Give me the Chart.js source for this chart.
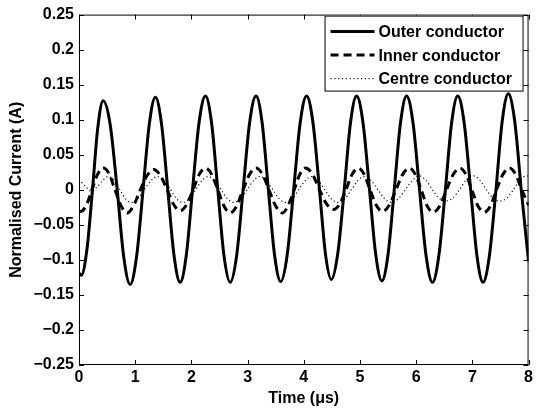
<!DOCTYPE html>
<html>
<head>
<meta charset="utf-8">
<script src="https://cdn.jsdelivr.net/npm/chart.js@4/dist/chart.umd.min.js"></script>
<style>
  html, body { margin: 0; padding: 0; background: #fff; }
  #wrap { width: 536px; height: 412px; }
</style>
</head>
<body>
<div id="wrap"><canvas id="c" width="536" height="412"></canvas></div>
<script>
// ---- Data ----
const seriesNames = ['Outer conductor', 'Inner conductor', 'Centre conductor'];

const outerT = [0.00,0.04,0.14,0.24,0.335,0.43,0.555,0.68,0.795,0.91,1.025,1.14,1.25,1.36,1.47,1.58,1.69,1.80,1.91,2.02,2.135,2.25,2.36,2.47,2.58,2.69,2.805,2.92,3.035,3.15,3.26,3.37,3.48,3.59,3.705,3.82,3.935,4.05,4.165,4.28,4.385,4.49,4.605,4.72,4.83,4.94,5.055,5.17,5.28,5.39,5.50,5.61,5.72,5.83,5.945,6.06,6.175,6.29,6.405,6.52,6.63,6.74,6.855,6.97,7.08,7.19,7.305,7.42,7.53,7.64,7.755,7.87,8.00];
const outerV = [-0.119,-0.122,-0.086,0.000,0.089,0.127,0.093,0.000,-0.095,-0.135,-0.095,0.000,0.093,0.132,0.093,0.000,-0.093,-0.132,-0.093,0.000,0.095,0.134,0.095,0.000,-0.094,-0.132,-0.094,0.000,0.095,0.134,0.095,0.000,-0.093,-0.131,-0.093,0.000,0.095,0.134,0.095,0.000,-0.091,-0.128,-0.091,0.000,0.095,0.134,0.095,0.000,-0.092,-0.130,-0.092,0.000,0.095,0.134,0.095,0.000,-0.093,-0.132,-0.093,0.000,0.095,0.134,0.095,0.000,-0.093,-0.132,-0.093,0.000,0.097,0.137,0.097,0.000,-0.102];

const innerT = [0.00,0.03,0.13,0.23,0.33,0.43,0.535,0.64,0.75,0.86,0.975,1.09,1.21,1.33,1.45,1.57,1.685,1.80,1.915,2.03,2.14,2.25,2.36,2.47,2.58,2.69,2.805,2.92,3.035,3.15,3.265,3.38,3.50,3.62,3.725,3.83,3.93,4.03,4.155,4.28,4.405,4.53,4.64,4.75,4.86,4.97,5.075,5.18,5.29,5.40,5.52,5.64,5.76,5.88,5.985,6.09,6.195,6.30,6.42,6.54,6.66,6.78,6.885,6.99,7.10,7.21,7.32,7.43,7.545,7.66,7.77,7.88,8.00];
const innerV = [-0.030,-0.031,-0.022,0.000,0.022,0.031,0.023,0.000,-0.023,-0.033,-0.022,0.000,0.020,0.029,0.020,0.000,-0.021,-0.030,-0.021,0.000,0.022,0.031,0.022,0.000,-0.023,-0.033,-0.023,0.000,0.022,0.031,0.022,0.000,-0.023,-0.033,-0.022,0.000,0.022,0.031,0.022,0.000,-0.020,-0.028,-0.020,0.000,0.022,0.031,0.022,0.000,-0.022,-0.031,-0.022,0.000,0.022,0.031,0.022,0.000,-0.023,-0.032,-0.023,0.000,0.022,0.031,0.022,0.000,-0.023,-0.032,-0.023,0.000,0.022,0.031,0.022,0.000,-0.022];

const centreT = [0.00,0.10,0.22,0.32,0.42,0.52,0.625,0.73,0.83,0.93,1.045,1.16,1.28,1.40,1.515,1.63,1.74,1.85,1.96,2.075,2.19,2.30,2.415,2.53,2.645,2.76,2.875,2.99,3.105,3.22,3.335,3.45,3.565,3.68,3.795,3.91,4.025,4.14,4.26,4.375,4.49,4.61,4.73,4.845,4.96,5.08,5.20,5.32,5.44,5.56,5.68,5.805,5.93,6.05,6.17,6.29,6.41,6.53,6.65,6.77,6.89,7.01,7.13,7.25,7.37,7.49,7.61,7.73,7.85,7.97,8.00];
const centreV = [0.015,0.006,-0.002,0.004,0.013,0.019,0.013,0.000,-0.013,-0.018,-0.013,0.000,0.013,0.019,0.013,0.000,-0.013,-0.018,-0.013,0.000,0.013,0.019,0.013,0.000,-0.013,-0.018,-0.013,0.000,0.013,0.019,0.013,0.000,-0.013,-0.018,-0.013,0.000,0.013,0.019,0.013,0.000,-0.013,-0.018,-0.013,0.000,0.013,0.019,0.013,0.000,-0.013,-0.018,-0.013,0.000,0.013,0.020,0.014,0.000,-0.012,-0.016,-0.012,0.000,0.014,0.020,0.014,0.000,-0.012,-0.016,-0.012,0.000,0.014,0.020,0.0195];

const xTickValues = [0, 1, 2, 3, 4, 5, 6, 7, 8];
const xTickLabels = ['0', '1', '2', '3', '4', '5', '6', '7', '8'];
const yTickValues = [-0.25, -0.2, -0.15, -0.1, -0.05, 0, 0.05, 0.1, 0.15, 0.2, 0.25];
const yTickLabels = ['\u22120.25', '\u22120.2', '\u22120.15', '\u22120.1', '\u22120.05', '0', '0.05', '0.1', '0.15', '0.2', '0.25'];
const xTitle = 'Time (\u03bcs)';
const yTitle = 'Normalised Current (A)';

// ---- Chart ----
const FONT = "'Liberation Sans', Arial, Helvetica, sans-serif";
const pts = (T, V) => T.map((t, i) => ({ x: t, y: V[i] }));

function labelFor(values, labels, v) {
  for (let i = 0; i < values.length; i++) if (Math.abs(values[i] - v) < 1e-9) return labels[i];
  return '';
}

const framePlugin = {
  id: 'frame',
  afterDatasetsDraw(chart) {
    const { ctx, chartArea: a, scales: { x, y } } = chart;
    ctx.save();
    ctx.strokeStyle = '#000';
    ctx.lineWidth = 1;
    ctx.strokeRect(a.left + 0.5, a.top + 0.5, a.right - a.left - 1, a.bottom - a.top - 1);
    const tl = 5;
    ctx.beginPath();
    x.ticks.forEach(t => {
      const px = Math.round(x.getPixelForValue(t.value)) + 0.5;
      ctx.moveTo(px, a.bottom); ctx.lineTo(px, a.bottom - tl);
      ctx.moveTo(px, a.top); ctx.lineTo(px, a.top + tl);
    });
    y.ticks.forEach(t => {
      const py = Math.round(y.getPixelForValue(t.value)) + 0.5;
      ctx.moveTo(a.left, py); ctx.lineTo(a.left + tl, py);
      ctx.moveTo(a.right, py); ctx.lineTo(a.right - tl, py);
    });
    ctx.stroke();

    // legend box (top right, inside axes)
    const bx0 = a.right - 204, bx1 = a.right - 6, by0 = a.top + 1, by1 = a.top + 76;
    ctx.fillStyle = '#fff';
    ctx.fillRect(bx0, by0, bx1 - bx0, by1 - by0);
    ctx.strokeStyle = '#000';
    ctx.lineWidth = 1;
    ctx.strokeRect(bx0 + 0.5, by0 + 0.5, bx1 - bx0, by1 - by0);
    const rows = [by0 + 16, by0 + 39.5, by0 + 63];
    ctx.font = 'bold 16px ' + FONT;
    ctx.textBaseline = 'middle';
    ctx.textAlign = 'left';
    chart.data.datasets.forEach((ds, i) => {
      const yy = rows[i];
      ctx.save();
      ctx.strokeStyle = ds.borderColor;
      ctx.lineWidth = ds.borderWidth;
      ctx.setLineDash(ds.borderDash || []);
      ctx.beginPath();
      ctx.moveTo(bx0 + 6, yy);
      ctx.lineTo(bx0 + 50, yy);
      ctx.stroke();
      ctx.restore();
      ctx.fillStyle = '#000';
      ctx.fillText(ds.label, bx0 + 54, yy + 1);
    });
    ctx.restore();
  }
};

new Chart(document.getElementById('c'), {
  type: 'line',
  data: {
    datasets: [
      { label: seriesNames[0], data: pts(outerT, outerV), borderColor: '#000', borderWidth: 3, borderDash: [] },
      { label: seriesNames[1], data: pts(innerT, innerV), borderColor: '#000', borderWidth: 3, borderDash: [8, 5] },
      { label: seriesNames[2], data: pts(centreT, centreV), borderColor: '#111', borderWidth: 1.2, borderDash: [1.2, 2.6] }
    ]
  },
  options: {
    responsive: false,
    animation: false,
    devicePixelRatio: 1,
    parsing: true,
    elements: {
      point: { radius: 0, hoverRadius: 0 },
      line: { cubicInterpolationMode: 'monotone', fill: false }
    },
    layout: { padding: { left: 0, right: 5, top: 8, bottom: 0 } },
    plugins: { legend: { display: false }, tooltip: { enabled: false } },
    scales: {
      x: {
        type: 'linear', min: 0, max: 8,
        afterBuildTicks: s => { s.ticks = xTickValues.map(v => ({ value: v })); },
        afterFit: s => { s.height = 47; },
        grid: { display: false, drawTicks: false },
        border: { display: false },
        ticks: {
          color: '#000', padding: 3,
          font: { family: FONT, size: 16, weight: 'bold' },
          callback: v => labelFor(xTickValues, xTickLabels, v)
        },
        title: {
          display: true, text: xTitle, color: '#000',
          font: { family: FONT, size: 16, weight: 'bold' },
          padding: { top: 0, bottom: 4 }
        }
      },
      y: {
        type: 'linear', min: -0.25, max: 0.25,
        afterBuildTicks: s => { s.ticks = yTickValues.map(v => ({ value: v })); },
        afterFit: s => { s.width = 79; },
        grid: { display: false, drawTicks: false },
        border: { display: false },
        ticks: {
          color: '#000', padding: 5,
          font: { family: FONT, size: 16, weight: 'bold' },
          callback: v => labelFor(yTickValues, yTickLabels, v)
        },
        title: {
          display: true, text: yTitle, color: '#000',
          font: { family: FONT, size: 16, weight: 'bold' },
          padding: { top: 7, bottom: 0 }
        }
      }
    }
  },
  plugins: [framePlugin]
});
</script>
</body>
</html>
